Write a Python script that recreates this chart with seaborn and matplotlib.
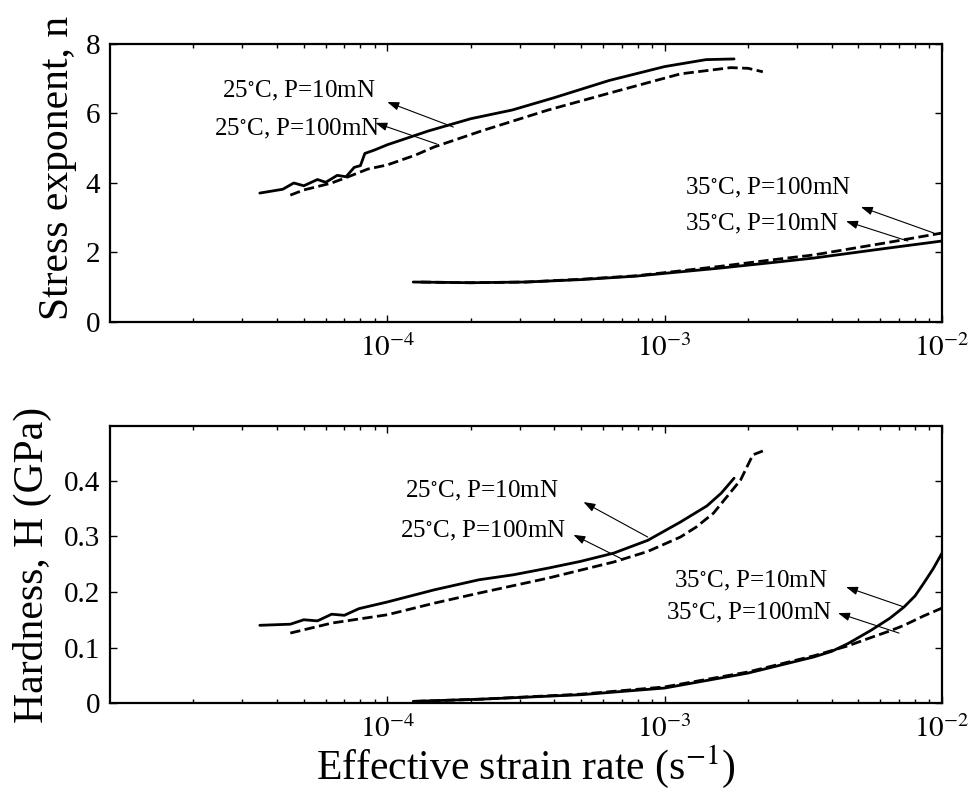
import numpy as np
import pandas as pd
import matplotlib
matplotlib.use("Agg")
import matplotlib.pyplot as plt
import seaborn as sns

# ---------------- data ----------------
# Top panel: stress exponent n vs effective strain rate
n25_10_rate = [3.47e-5, 4.2e-5, 4.6e-5, 5.0e-5, 5.6e-5, 6.0e-5, 6.6e-5, 7.1e-5, 7.6e-5, 8.0e-5,
               8.3e-5, 9.0e-5, 1.0e-4, 1.41e-4, 2.0e-4, 2.82e-4, 3.98e-4, 6.31e-4, 1.0e-3,
               1.41e-3, 1.78e-3]
n25_10_val = [3.71, 3.82, 4.00, 3.92, 4.10, 4.02, 4.22, 4.18, 4.45, 4.50,
              4.85, 4.95, 5.10, 5.50, 5.85, 6.10, 6.45, 6.95, 7.35, 7.55, 7.57]

n25_100_rate = [4.47e-5, 5.0e-5, 5.62e-5, 6.3e-5, 7.08e-5, 8.5e-5, 1.0e-4, 1.26e-4, 1.48e-4,
                2.19e-4, 3.8e-4, 6.55e-4, 1.14e-3, 1.73e-3, 2.0e-3, 2.26e-3]
n25_100_val = [3.65, 3.80, 3.90, 4.00, 4.15, 4.40, 4.52, 4.80, 5.04,
               5.50, 6.10, 6.62, 7.14, 7.32, 7.30, 7.20]

n35_10_rate = [1.24e-4, 2.0e-4, 3.16e-4, 5.0e-4, 7.9e-4, 1.0e-3, 1.58e-3, 2.51e-3, 3.45e-3,
               6.3e-3, 1.0e-2]
n35_10_val = [1.15, 1.13, 1.15, 1.22, 1.32, 1.40, 1.55, 1.72, 1.84, 2.12, 2.33]

n35_100_rate = [1.32e-4, 2.0e-4, 3.16e-4, 5.0e-4, 7.9e-4, 1.0e-3, 1.58e-3, 2.51e-3, 3.45e-3,
                6.3e-3, 1.0e-2]
n35_100_val = [1.15, 1.13, 1.15, 1.23, 1.33, 1.42, 1.60, 1.80, 1.93, 2.28, 2.56]

# Bottom panel: hardness H (GPa) vs effective strain rate
h25_10_rate = [3.47e-5, 4.47e-5, 5.0e-5, 5.6e-5, 6.3e-5, 7.0e-5, 7.9e-5, 1.0e-4, 1.48e-4,
               2.14e-4, 2.85e-4, 3.8e-4, 4.96e-4, 6.55e-4, 8.69e-4, 1.14e-3, 1.42e-3,
               1.6e-3, 1.78e-3]
h25_10_val = [0.140, 0.142, 0.150, 0.148, 0.160, 0.158, 0.170, 0.182, 0.204,
              0.222, 0.231, 0.243, 0.255, 0.270, 0.293, 0.326, 0.355, 0.378, 0.405]

h25_100_rate = [4.47e-5, 6.3e-5, 1.0e-4, 1.48e-4, 2.14e-4, 3.8e-4, 6.55e-4, 8.69e-4, 1.14e-3,
                1.3e-3, 1.5e-3, 1.68e-3, 1.88e-3, 2.08e-3, 2.26e-3]
h25_100_val = [0.126, 0.144, 0.159, 0.180, 0.198, 0.225, 0.254, 0.273, 0.299,
               0.317, 0.342, 0.372, 0.402, 0.447, 0.454]

h35_10_rate = [1.24e-4, 2.19e-4, 5.0e-4, 1.0e-3, 2.0e-3, 3.45e-3, 4.0e-3, 4.58e-3, 5.55e-3,
               6.5e-3, 7.3e-3, 8.0e-3, 8.6e-3, 9.3e-3, 1.0e-2]
h35_10_val = [0.003, 0.007, 0.015, 0.027, 0.054, 0.083, 0.093, 0.107, 0.131,
              0.153, 0.173, 0.193, 0.216, 0.242, 0.270]

h35_100_rate = [1.26e-4, 2.19e-4, 5.0e-4, 1.0e-3, 2.0e-3, 3.45e-3, 4.58e-3, 5.55e-3, 6.5e-3,
                7.3e-3, 8.6e-3, 1.0e-2]
h35_100_val = [0.003, 0.007, 0.016, 0.029, 0.056, 0.085, 0.103, 0.118, 0.130,
               0.140, 0.157, 0.171]

x_ticks = [1e-4, 1e-3, 1e-2]
x_tick_labels = [r'$10^{-4}$', r'$10^{-3}$', r'$10^{-2}$']
n_ticks = [0, 2, 4, 6, 8]
h_ticks = [0, 0.1, 0.2, 0.3, 0.4]
h_tick_labels = ['0', '0.1', '0.2', '0.3', '0.4']

lab_25_10 = r'25$^{\circ}$C, P=10mN'
lab_25_100 = r'25$^{\circ}$C, P=100mN'
lab_35_10 = r'35$^{\circ}$C, P=10mN'
lab_35_100 = r'35$^{\circ}$C, P=100mN'

# ---------------- style ----------------
sns.set_style("ticks")
plt.rcParams['font.family'] = ['Liberation Serif', 'DejaVu Serif']
plt.rcParams['mathtext.fontset'] = 'stix'
plt.rcParams['axes.linewidth'] = 1.6
plt.rcParams['xtick.direction'] = 'in'
plt.rcParams['ytick.direction'] = 'in'
for key in ['text.color', 'axes.labelcolor', 'xtick.color', 'ytick.color',
            'axes.edgecolor', 'xtick.labelcolor', 'ytick.labelcolor']:
    plt.rcParams[key] = 'black'

fig = plt.figure(figsize=(9.74, 7.97), dpi=100)
ax1 = fig.add_axes([0.1129, 0.5960, 0.8542, 0.3488])
ax2 = fig.add_axes([0.1129, 0.1179, 0.8542, 0.3476])

def draw(ax, rate, val, dashed):
    df = pd.DataFrame({'rate': rate, 'val': val})
    sns.lineplot(data=df, x='rate', y='val', ax=ax, color='black',
                 linewidth=2.0, linestyle='--' if dashed else '-',
                 estimator=None, sort=True)

draw(ax1, n25_10_rate, n25_10_val, False)
draw(ax1, n25_100_rate, n25_100_val, True)
draw(ax1, n35_10_rate, n35_10_val, False)
draw(ax1, n35_100_rate, n35_100_val, True)

draw(ax2, h25_10_rate, h25_10_val, False)
draw(ax2, h25_100_rate, h25_100_val, True)
draw(ax2, h35_10_rate, h35_10_val, False)
draw(ax2, h35_100_rate, h35_100_val, True)

ann_fs = 18
arrow_kw = dict(arrowstyle='-|>,head_length=0.7,head_width=0.25', color='black',
                lw=0.8, shrinkA=0, shrinkB=0)

def note(ax, text, tx, ty, ha, head, tail):
    ax.text(tx, ty, text, ha=ha, va='baseline', fontsize=ann_fs, color='black')
    ax.annotate('', xy=head, xytext=tail, arrowprops=arrow_kw)

# top annotations
note(ax1, lab_25_10, 9.06e-5, 6.47, 'right', (1.0e-4, 6.33), (1.73e-4, 5.61))
note(ax1, lab_25_100, 9.44e-5, 5.38, 'right', (9.06e-5, 5.73), (1.51e-4, 5.12))
note(ax1, lab_35_100, 1.18e-3, 3.68, 'left', (5.1e-3, 3.31), (9.35e-3, 2.56))
note(ax1, lab_35_10, 1.18e-3, 2.62, 'left', (4.51e-3, 2.9), (7.53e-3, 2.33))

# bottom annotations
note(ax2, lab_25_10, 1.16e-4, 0.371, 'left', (5.1e-4, 0.362), (8.69e-4, 0.299))
note(ax2, lab_25_100, 1.11e-4, 0.299, 'left', (4.69e-4, 0.303), (7.11e-4, 0.258))
note(ax2, lab_35_10, 1.08e-3, 0.209, 'left', (4.51e-3, 0.209), (7.3e-3, 0.173))
note(ax2, lab_35_100, 1.01e-3, 0.150, 'left', (4.22e-3, 0.162), (7.0e-3, 0.126))

for ax in (ax1, ax2):
    ax.set_xscale('log')
    ax.set_xlim(1e-5, 1e-2)
    ax.set_xticks(x_ticks)
    ax.set_xticklabels(x_tick_labels)
    ax.xaxis.set_minor_locator(matplotlib.ticker.LogLocator(base=10, subs=np.arange(2, 10)))
    ax.xaxis.set_minor_formatter(matplotlib.ticker.NullFormatter())
    ax.tick_params(which='both', top=True, right=True, labelsize=21, width=1.0,
                   color='black', labelcolor='black')
    ax.tick_params(which='major', length=5, pad=7)
    ax.tick_params(which='minor', length=3)
    ax.tick_params(axis='x', which='major', pad=9)
    ax.set_xlabel('')
    for s in ax.spines.values():
        s.set_visible(True)
        s.set_color('black')

ax1.set_ylim(0, 8)
ax1.set_yticks(n_ticks)
ax1.set_yticklabels([str(t) for t in n_ticks])
ax1.set_ylabel('Stress exponent, n', fontsize=30, color='black')
ax1.yaxis.set_label_coords(-0.040, 0.554)

ax2.set_ylim(0, 0.499)
ax2.set_yticks(h_ticks)
ax2.set_yticklabels(h_tick_labels)
ax2.set_ylabel('Hardness, H (GPa)', fontsize=30, color='black')
ax2.yaxis.set_label_coords(-0.070, 0.5)
ax2.set_xlabel(r'Effective strain rate (s$^{-1}$)', fontsize=30, labelpad=0, color='black')

fig.savefig('out.png', dpi=100, facecolor='white')
